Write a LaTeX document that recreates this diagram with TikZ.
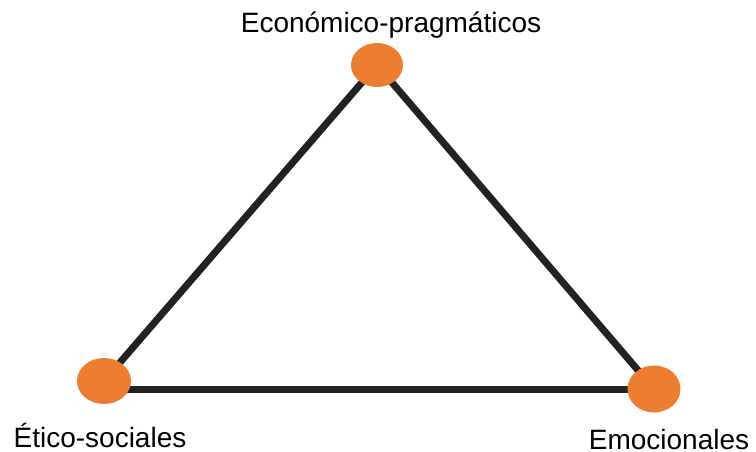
\documentclass[tikz,border=0pt]{standalone}
\usepackage{fontspec}
\setmainfont{Liberation Sans}
\usetikzlibrary{shapes.geometric,backgrounds}
\definecolor{vorange}{HTML}{ED7D31}
\definecolor{vline}{HTML}{222222}
\begin{document}
\begin{tikzpicture}[x=1pt,y=-1pt,
  vertex/.style={ellipse,fill=vorange,inner sep=0pt},
  edge/.style={draw=vline,line width=7pt},
  lbl/.style={font=\fontsize{28}{32}\selectfont,inner sep=0pt,anchor=base}]
\useasboundingbox (0,0) rectangle (756,452);
\node[vertex,minimum width=52pt,minimum height=44pt] (top) at (377,65) {};
\node[vertex,minimum width=54pt,minimum height=46pt] (left) at (104,381) {};
\node[vertex,minimum width=53pt,minimum height=47pt] (right) at (654,389) {};
\begin{scope}[on background layer]
\draw[edge] (left.center) -- (top.center) -- (right.center);
\draw[edge] (left.center |- right.center) -- (right.center);
\end{scope}
\node[lbl] (ltop) at (391,33) {Económico-pragmáticos};
\node[lbl] (lleft) at (100,447) {Ético-sociales};
\node[lbl] (lright) at (669,449) {Emocionales};
\end{tikzpicture}
\end{document}
